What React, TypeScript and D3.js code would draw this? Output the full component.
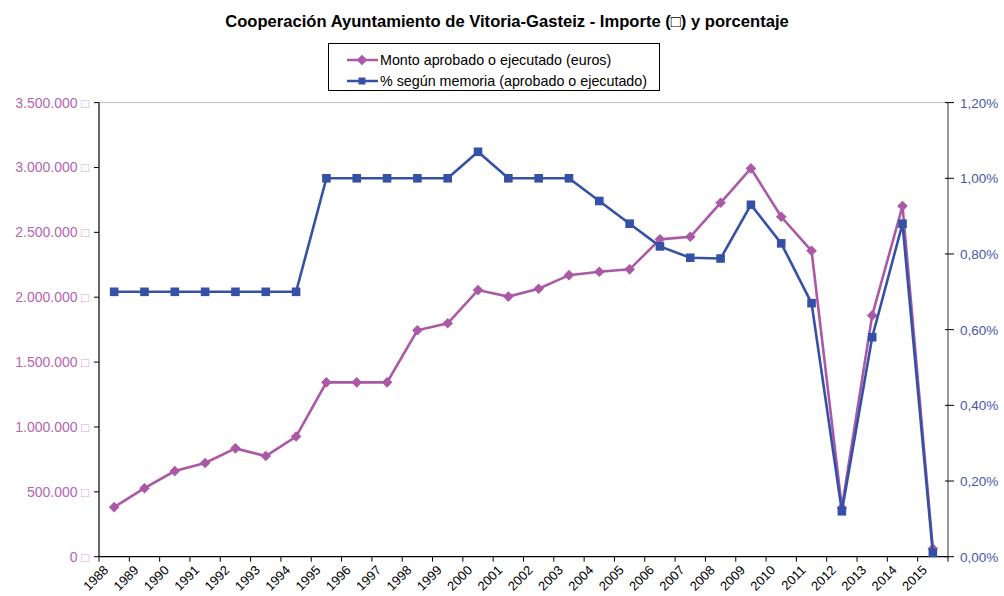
import React from 'react'
import * as d3 from 'd3'

const years = [
  '1988', '1989', '1990', '1991', '1992', '1993', '1994', '1995', '1996', '1997',
  '1998', '1999', '2000', '2001', '2002', '2003', '2004', '2005', '2006', '2007',
  '2008', '2009', '2010', '2011', '2012', '2013', '2014', '2015',
]

// Monto aprobado o ejecutado (euros)
const montoValues = [
  382000, 528000, 660000, 722000, 835000, 776000, 926000, 1344000, 1344000, 1344000,
  1745000, 1799000, 2055000, 2005000, 2065000, 2170000, 2196000, 2215000, 2446000, 2466000,
  2728000, 2993000, 2620000, 2358000, 378000, 1860000, 2703000, 62000,
]

// % según memoria (aprobado o ejecutado)
const pctValues = [
  0.70, 0.70, 0.70, 0.70, 0.70, 0.70, 0.70, 1.00, 1.00, 1.00,
  1.00, 1.00, 1.07, 1.00, 1.00, 1.00, 0.94, 0.88, 0.82, 0.79,
  0.788, 0.93, 0.828, 0.67, 0.12, 0.58, 0.88, 0.01,
]

const leftTicks = [0, 500000, 1000000, 1500000, 2000000, 2500000, 3000000, 3500000]
const rightTicks = [0, 0.2, 0.4, 0.6, 0.8, 1.0, 1.2]

const title = 'Cooperación Ayuntamiento de Vitoria-Gasteiz - Importe (□) y porcentaje'
const legendLabels = ['Monto aprobado o ejecutado (euros)', '% según memoria (aprobado o ejecutado)']

const PINK = '#ab58a6'
const BLUE = '#3451a6'
const font = '"Liberation Sans", Arial, sans-serif'

export default function App() {
  const left = 99
  const right = 948
  const top = 102.6
  const bottom = 556.7

  const x = d3.scaleBand<string>().domain(years).range([left, right])
  const yL = d3.scaleLinear().domain([0, 3500000]).range([bottom, top])
  const yR = d3.scaleLinear().domain([0, 1.2]).range([bottom, top])
  const cx = (yr: string) => (x(yr) ?? 0) + x.bandwidth() / 2

  const fmtL = (v: number) => (v === 0 ? '0' : d3.format(',')(v).replace(/,/g, '.'))
  const fmtR = (v: number) => v.toFixed(2).replace('.', ',') + '%'

  const montoLine = d3.line<number>().x((_, i) => cx(years[i])).y(d => yL(d))
  const pctLine = d3.line<number>().x((_, i) => cx(years[i])).y(d => yR(d))
  const diamond = d3.symbol().type(d3.symbolDiamond2).size(72)()
  const square = (s: number) => `M${-s},${-s}H${s}V${s}H${-s}Z`

  return (
    <svg width={1004} height={596} style={{ position: 'absolute', left: 0, top: 0, background: '#fff' }} fontFamily={font}>
      <text x={507} y={27} textAnchor="middle" fontSize={16.6} fontWeight="bold" fill="#000">{title}</text>

      {/* legend */}
      <rect x={328.5} y={43.5} width={331} height={47} fill="#fff" stroke="#000" strokeWidth={1} />
      <line x1={347} x2={378} y1={60} y2={60} stroke={PINK} strokeWidth={2.5} />
      <path d={diamond} transform="translate(362,60)" fill={PINK} />
      <text x={380} y={65} fontSize={14.3} fill="#000">{legendLabels[0]}</text>
      <line x1={347} x2={378} y1={81} y2={81} stroke={BLUE} strokeWidth={2.5} />
      <path d={square(3.5)} transform="translate(362,81)" fill={BLUE} />
      <text x={380} y={86} fontSize={14.3} fill="#000">{legendLabels[1]}</text>

      {/* top border */}
      <line x1={left} x2={right} y1={top} y2={top} stroke="#c0c0c0" strokeWidth={1} />

      {/* left axis */}
      <line x1={left} x2={left} y1={top} y2={bottom} stroke="#000" strokeWidth={1.2} />
      {leftTicks.map(t => (
        <g key={t}>
          <line x1={left - 5} x2={left} y1={yL(t)} y2={yL(t)} stroke="#000" />
          <text x={89} y={yL(t) + 5} textAnchor="end" fontSize={14} fill="#b565b3">
            {fmtL(t)}
            <tspan fill="#d9a3d6" fontSize={13}>{' □'}</tspan>
          </text>
        </g>
      ))}

      {/* right axis */}
      <line x1={right} x2={right} y1={top} y2={bottom} stroke="#555" strokeWidth={1.2} />
      {rightTicks.map(t => (
        <g key={t}>
          <line x1={right - 3} x2={right + 6} y1={yR(t)} y2={yR(t)} stroke="#000" />
          <text x={960} y={yR(t) + 5} fontSize={13.5} fill="#4858a8">{fmtR(t)}</text>
        </g>
      ))}

      {/* bottom axis */}
      <line x1={left} x2={right} y1={bottom} y2={bottom} stroke="#000" strokeWidth={1.2} />
      {years.map(yr => (
        <line key={'t' + yr} x1={x(yr)} x2={x(yr)} y1={bottom} y2={bottom + 5} stroke="#000" />
      ))}
      <line x1={right} x2={right} y1={bottom} y2={bottom + 5} stroke="#000" />
      {years.map(yr => (
        <text
          key={'l' + yr}
          transform={`translate(${cx(yr) - 5},${571}) rotate(-45)`}
          textAnchor="end"
          fontSize={13}
          fill="#000"
        >
          {yr}
        </text>
      ))}

      {/* series */}
      <path d={montoLine(montoValues) ?? ''} fill="none" stroke={PINK} strokeWidth={2.6} />
      {montoValues.map((v, i) => (
        <path key={'m' + i} d={diamond} transform={`translate(${cx(years[i])},${yL(v)})`} fill={PINK} />
      ))}
      <path d={pctLine(pctValues) ?? ''} fill="none" stroke={BLUE} strokeWidth={2.6} />
      {pctValues.map((v, i) => (
        <path key={'p' + i} d={square(4.3)} transform={`translate(${cx(years[i])},${yR(v)})`} fill={BLUE} />
      ))}
    </svg>
  )
}
